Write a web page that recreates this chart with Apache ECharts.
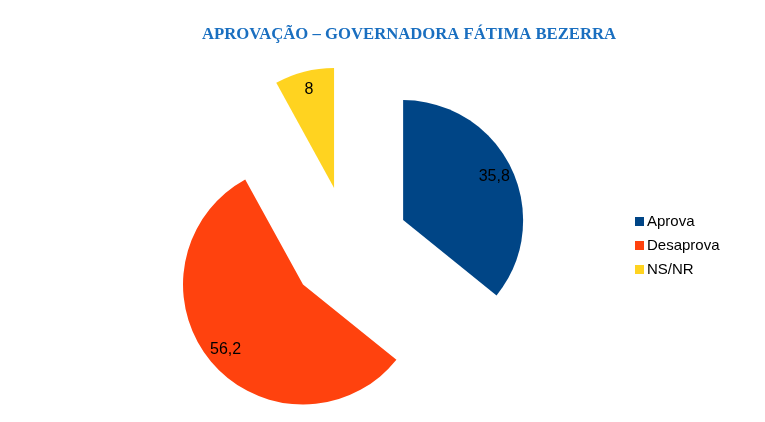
<!DOCTYPE html>
<html><head><meta charset="utf-8">
<script src="https://cdn.jsdelivr.net/npm/echarts@6/dist/echarts.min.js"></script>
<style>html,body{margin:0;padding:0;background:#fff}#c{width:765px;height:422px}</style>
</head><body><div id="c"></div>
<script>
const titleText = 'APROVAÇÃO – GOVERNADORA FÁTIMA BEZERRA';
const categories = ['Aprova', 'Desaprova', 'NS/NR'];
const values = [35.8, 56.2, 8];
const colors = ['#004586', '#ff420e', '#ffd320'];

const chart = echarts.init(document.getElementById('c'));
const center = [349, 246];
const fmt = v => String(v).replace('.', ',');
chart.setOption({
  animation: false,
  title: {
    text: titleText, left: 197, top: 21,
    textStyle: { fontFamily: 'Liberation Serif', fontWeight: 'bold', fontSize: 16.7, color: '#1a6fc0' }
  },
  legend: {
    orient: 'vertical', left: 630, top: 209, itemWidth: 9, itemHeight: 9, itemGap: 9,
    icon: 'rect', data: categories,
    textStyle: { fontFamily: 'Liberation Sans', fontSize: 15, color: '#000', padding: [0,0,0,-2] }
  },
  series: [{
    type: 'pie', center: center, radius: [0, 120], startAngle: 90, clockwise: true,
    selectedMode: 'multiple', selectedOffset: 60, silent: true,
    label: { show: false }, labelLine: { show: false },
    emphasis: { disabled: true },
    data: categories.map((n, i) => ({ name: n, value: values[i], selected: true, itemStyle: { color: colors[i] } }))
  }, {
    type: 'pie', center: center, radius: [0, 196], startAngle: 90, clockwise: true,
    selectedMode: 'multiple', selectedOffset: 60, silent: true,
    itemStyle: { color: 'rgba(0,0,0,0)' },
    label: { show: true, position: 'inside', color: '#000', fontFamily: 'Liberation Sans', fontSize: 16,
      formatter: p => fmt(p.value) },
    labelLine: { show: false }, emphasis: { disabled: true },
    data: categories.map((n, i) => ({ name: n, value: values[i], selected: true }))
  }]
});
</script></body></html>
